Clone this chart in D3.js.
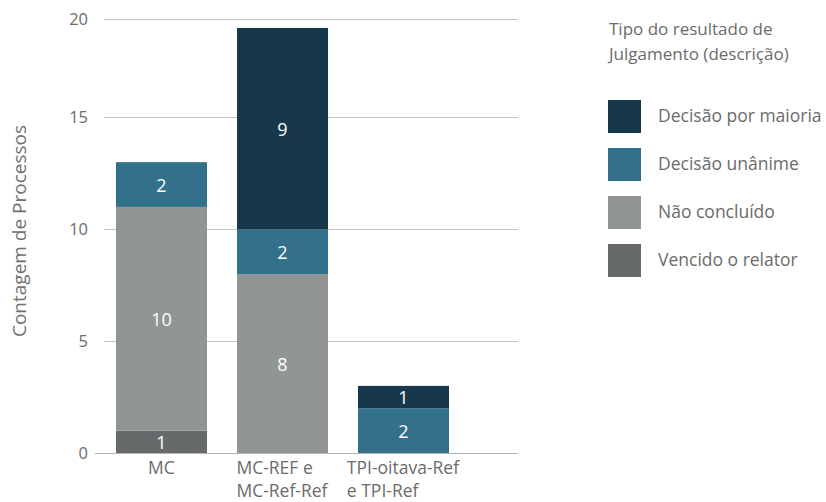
<!DOCTYPE html>
<html>
<head>
<meta charset="utf-8">
<script src="https://cdn.jsdelivr.net/npm/d3@7"></script>
<style>
  body { margin: 0; background: #fff; }
</style>
</head>
<body>
<div id="chart"></div>
<script>
// categories and series
var categories = ['MC', 'MC-REF e\nMC-Ref-Ref', 'TPI-oitava-Ref\ne TPI-Ref'];
var seriesNames = ['Vencido o relator', 'Não concluído', 'Decisão unânime', 'Decisão por maioria'];
var vencido = [1, 0, 0];
var naoConcluido = [10, 8, 0];
var unanime = [2, 2, 2];
var maioria = [0, 9, 1];
var yTicks = [0, 5, 10, 15, 20];
var colors = ['#676a6b', '#929596', '#33708a', '#17384a'];
var legendTitle = ['Tipo do resultado de', 'Julgamento (descrição)'];

var FONT = "'Open Sans', 'Noto Sans', sans-serif";
var W = 826, H = 502;
var svg = d3.select('#chart').append('svg')
  .attr('width', W).attr('height', H)
  .style('font-family', FONT);

// build a table for the stack
var table = categories.map(function(c, i) {
  return { cat: c, v0: vencido[i], v1: naoConcluido[i], v2: unanime[i], v3: maioria[i] };
});
var stack = d3.stack().keys(['v0', 'v1', 'v2', 'v3'])(table);

var x = d3.scaleBand()
  .domain(categories)
  .range([101, 464])
  .paddingInner(0.248)
  .paddingOuter(0.124);

// top line is drawn at the plot top, like the original
var y = d3.scaleLinear().domain([0, 19.4]).range([453, 19]).clamp(true);

// gridlines
svg.selectAll('line.grid')
  .data(yTicks)
  .enter().append('line')
    .attr('x1', d => d === 0 ? 95 : 104)
    .attr('x2', 518)
    .attr('y1', d => Math.round(y(d)) + 0.5)
    .attr('y2', d => Math.round(y(d)) + 0.5)
    .attr('stroke', d => d === 0 ? '#b4b4b4' : '#c4c4c4')
    .attr('stroke-width', 1.2);

// tick labels
svg.selectAll('text.tick')
  .data(yTicks)
  .enter().append('text')
    .attr('x', 88)
    .attr('y', d => y(d) + 6)
    .attr('text-anchor', 'end')
    .attr('font-size', 16.5)
    .attr('fill', '#6b6b6b')
    .text(d => d);

// y title
svg.append('text')
  .attr('transform', 'translate(26,231) rotate(-90)')
  .attr('text-anchor', 'middle')
  .attr('font-size', 19)
  .attr('fill', '#707070')
  .text('Contagem de Processos');

// bars
var layers = svg.selectAll('g.layer')
  .data(stack)
  .enter().append('g')
    .attr('fill', (d, i) => colors[i]);

layers.selectAll('rect')
  .data(d => d.filter(p => p[1] - p[0] > 0))
  .enter().append('rect')
    .attr('x', d => x(d.data.cat))
    .attr('y', d => y(d[1]))
    .attr('width', x.bandwidth())
    .attr('height', d => y(d[0]) - y(d[1]));

// value labels
layers.selectAll('text')
  .data(d => d.filter(p => p[1] - p[0] > 0))
  .enter().append('text')
    .attr('x', d => x(d.data.cat) + x.bandwidth() / 2)
    .attr('y', d => (y(d[0]) + y(d[1])) / 2 + 7)
    .attr('text-anchor', 'middle')
    .attr('font-size', 18)
    .attr('fill', '#ffffff')
    .text(d => d[1] - d[0]);

// category labels, lines left aligned in a centred block
categories.forEach(function(c) {
  var lines = c.split('\n');
  var t = svg.append('text')
    .attr('font-size', 17.5)
    .attr('fill', '#6b6b6b');
  lines.forEach(function(l, i) {
    t.append('tspan').attr('x', 0).attr('y', 474 + i * 23).text(l);
  });
  var w = t.node().getBBox().width;
  var cx = x(c) + x.bandwidth() / 2;
  t.attr('transform', 'translate(' + (cx - w / 2) + ',0)');
});

// legend
svg.selectAll('text.ltitle')
  .data(legendTitle)
  .enter().append('text')
    .attr('x', 609)
    .attr('y', (d, i) => 35 + i * 25)
    .attr('font-size', 17)
    .attr('fill', '#6b6b6b')
    .text(d => d);

var legendOrder = [3, 2, 1, 0];
var leg = svg.selectAll('g.leg')
  .data(legendOrder)
  .enter().append('g')
    .attr('transform', (d, i) => 'translate(608,' + (100 + i * 48) + ')');

leg.append('rect')
  .attr('width', 33).attr('height', 33)
  .attr('fill', d => colors[d]);

leg.append('text')
  .attr('x', 50)
  .attr('y', 22)
  .attr('font-size', 17.5)
  .attr('fill', '#6b6b6b')
  .text(d => seriesNames[d]);
</script>
</body>
</html>
